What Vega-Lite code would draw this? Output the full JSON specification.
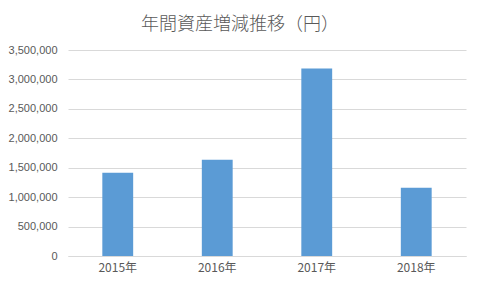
{
  "$schema": "https://vega.github.io/schema/vega-lite/v6.json",
  "width": 398,
  "height": 206,
  "autosize": {"type": "none"},
  "padding": {"left": 68, "top": 50, "right": 14, "bottom": 32},
  "background": "white",
  "title": {
    "text": "年間資産増減推移（円）",
    "font": "Noto Sans CJK JP",
    "fontSize": 18,
    "fontWeight": 300,
    "color": "#595959",
    "anchor": "middle",
    "dx": -27,
    "offset": 10
  },
  "data": {
    "values": [
      {"year": "2015年", "value": 1415000},
      {"year": "2016年", "value": 1636000},
      {"year": "2017年", "value": 3187000},
      {"year": "2018年", "value": 1159000}
    ]
  },
  "mark": {"type": "bar", "color": "#5b9bd5"},
  "encoding": {
    "x": {
      "field": "year",
      "type": "nominal",
      "sort": null,
      "scale": {"paddingInner": 0.69, "paddingOuter": 0.345},
      "axis": {
        "title": null,
        "labelAngle": 0,
        "ticks": false,
        "domainColor": "#d9d9d9",
        "domainWidth": 1,
        "labelColor": "#595959",
        "labelFont": "Noto Sans CJK JP",
        "labelFontSize": 12,
        "labelPadding": 6
      }
    },
    "y": {
      "field": "value",
      "type": "quantitative",
      "scale": {"domain": [0, 3500000], "nice": false},
      "axis": {
        "title": null,
        "values": [0, 500000, 1000000, 1500000, 2000000, 2500000, 3000000, 3500000],
        "format": ",d",
        "domain": false,
        "ticks": false,
        "gridColor": "#d9d9d9",
        "gridWidth": 1,
        "labelColor": "#595959",
        "labelFont": "Liberation Sans",
        "labelFontSize": 11,
        "labelPadding": 11
      }
    }
  },
  "config": {"view": {"stroke": null}}
}
